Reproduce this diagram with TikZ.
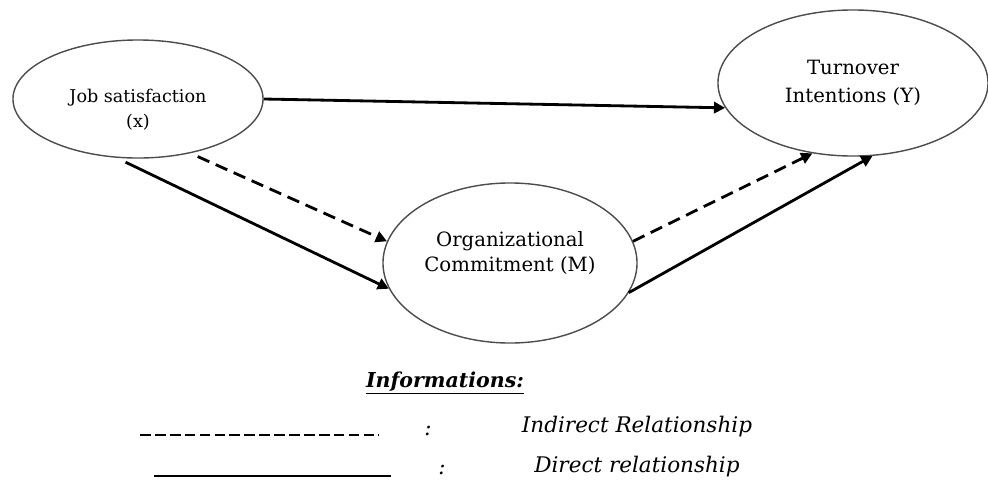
\documentclass[tikz,border=0pt]{standalone}
\usepackage{fontspec}
\setmainfont{DejaVu Serif}
\usetikzlibrary{shapes.geometric}
\usetikzlibrary{arrows.meta}
\tikzset{   var/.style = {ellipse, draw = black!70, line width = 1pt, fill = white, align = center, inner sep = 0pt},
            direct/.style = {line width = 2pt, -{Triangle[length = 8pt, width = 8pt]}},
            indirect/.style = {direct, dash pattern = on 9pt off 5pt}}
\begin{document}
\begin{tikzpicture}[x = 0.025cm, y = -0.025cm]
                        \useasboundingbox (0, 0) rectangle (988, 481);
                        \node[var, minimum width = 6.25cm, minimum height = 2.95cm, font = \fontsize{12.5}{17.5}\selectfont] (job) at (138, 99) {\rule{0pt}{0.87cm}Job satisfaction\\(x)};
                        \node[var, minimum width = 6.75cm, minimum height = 3.65cm, font = \fontsize{14}{19.5}\selectfont] (turn) at (853, 83) {Turnover\\Intentions (Y)};
                        \node[var, minimum width = 6.35cm, minimum height = 4.0cm, font = \fontsize{14}{17.5}\selectfont] (org) at (510, 263) {Organizational\\Commitment (M)\rule[-0.57cm]{0pt}{0.57cm}};
                        \begin{scope}
                        \draw[direct] (job.east) -- (turn.191);
                        \draw[indirect, shorten <= 0.2cm] (job.-46) -- (org.170);
                        \draw[direct, shorten <= 0.25cm] (job.250) -- (org.192);
                        \draw[indirect] (org.10) -- (turn.240);
                        \draw[direct] (org.-14) -- (turn.285);
                        \end{scope}
                        \begin{scope}[font = \fontsize{15.3}{18}\selectfont\itshape]
                        \node[font = \fontsize{14.6}{17}\selectfont\bfseries\itshape] (info) at (445, 383) {\underline{Informations:}};
                        \coordinate (ia) at (140, 435);
                        \coordinate (ib) at (379, 435);
                        \draw[line width = 2pt, dash pattern = on 7.6pt off 3pt] (ia) -- (ib);
                        \node (icolon) at (428, 431) {:};
                        \node (itext) at (637, 427) {Indirect Relationship};
                        \coordinate (da) at (154, 476);
                        \coordinate (db) at (391, 476);
                        \draw[line width = 2pt] (da) -- (db);
                        \node (dcolon) at (442, 470) {:};
                        \node (dtext) at (637, 467) {Direct relationship};
                        \end{scope}
                      \end{tikzpicture}
\end{document}
